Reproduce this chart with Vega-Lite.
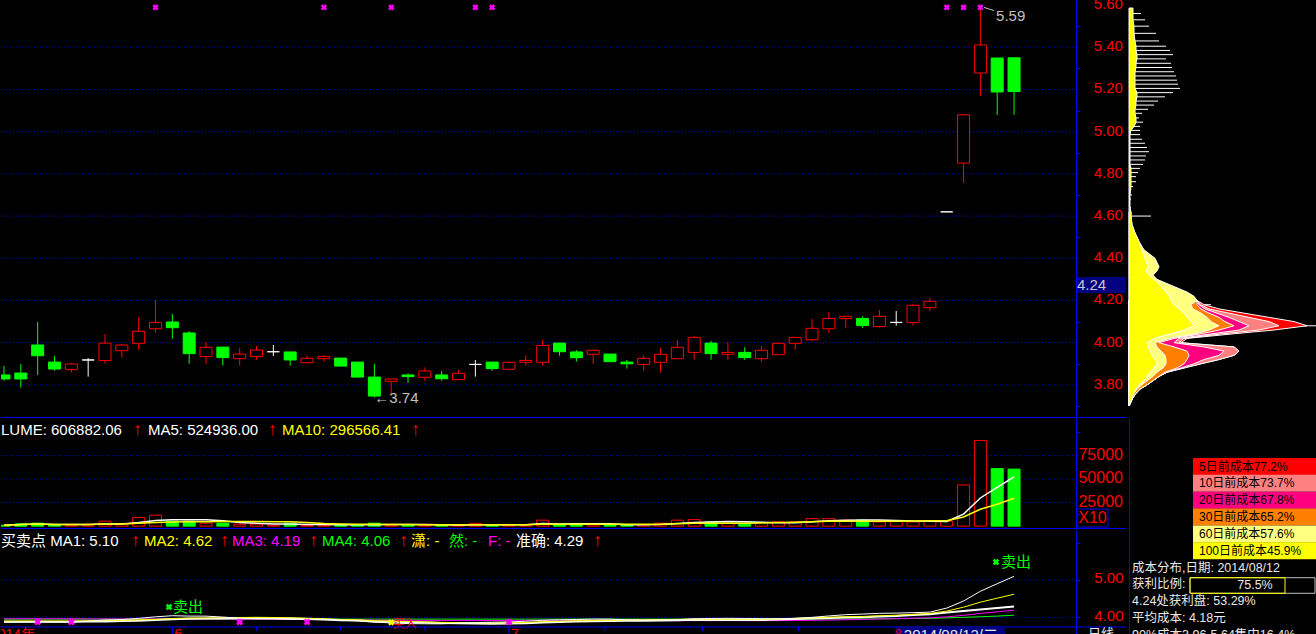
{
"$schema":"https://vega.github.io/schema/vega-lite/v6.json",
"background":"#000000",
"padding":0,
"spacing":0,
"usermeta":{"embedOptions":{"actions":false}},
"config":{"view":{"stroke":null},"concat":{"spacing":0},"font":"Liberation Sans","axis":{"grid":false},"text":{"font":"Liberation Sans, Noto Sans CJK SC"}},
"datasets":{
"k":[
{"i":1,"o":3.847,"h":3.889,"l":3.82,"c":3.828,"v":1000,"a5":1000,"a10":1000,"m1":3.87,"m2":3.9,"m3":3.96,"m4":3.95,"zq":3.88},
{"i":2,"o":3.856,"h":3.899,"l":3.787,"c":3.828,"v":2400,"a5":1700,"a10":1700,"m1":3.87,"m2":3.9,"m3":3.96,"m4":3.95,"zq":3.88},
{"i":3,"o":3.989,"h":4.098,"l":3.847,"c":3.938,"v":3200,"a5":2200,"a10":2200,"m1":3.88,"m2":3.9,"m3":3.96,"m4":3.95,"zq":3.88},
{"i":4,"o":3.908,"h":3.937,"l":3.867,"c":3.875,"v":1000,"a5":1900,"a10":1900,"m1":3.87,"m2":3.9,"m3":3.96,"m4":3.95,"zq":3.88},
{"i":5,"o":3.872,"h":3.904,"l":3.858,"c":3.899,"v":1200,"a5":1760,"a10":1760,"m1":3.876,"m2":3.9,"m3":3.96,"m4":3.95,"zq":3.88},
{"i":6,"o":3.918,"h":3.927,"l":3.839,"c":3.918,"v":1500,"a5":1860,"a10":1717,"m1":3.894,"m2":3.905,"m3":3.955,"m4":3.95,"zq":3.885},
{"i":7,"o":3.915,"h":4.041,"l":3.9,"c":3.998,"v":5300,"a5":2440,"a10":2229,"m1":3.928,"m2":3.91,"m3":3.955,"m4":3.95,"zq":3.89},
{"i":8,"o":3.962,"h":3.994,"l":3.929,"c":3.989,"v":2800,"a5":2360,"a10":2300,"m1":3.938,"m2":3.92,"m3":3.955,"m4":3.95,"zq":3.9},
{"i":9,"o":3.997,"h":4.122,"l":3.967,"c":4.054,"v":9200,"a5":4000,"a10":3089,"m1":3.972,"m2":3.93,"m3":3.955,"m4":3.95,"zq":3.91},
{"i":10,"o":4.066,"h":4.202,"l":4.047,"c":4.096,"v":11700,"a5":6100,"a10":3930,"m1":4.012,"m2":3.944,"m3":3.955,"m4":3.95,"zq":3.924},
{"i":11,"o":4.098,"h":4.136,"l":4.019,"c":4.071,"v":5300,"a5":6860,"a10":4360,"m1":4.042,"m2":3.968,"m3":3.955,"m4":3.95,"zq":3.948},
{"i":12,"o":4.046,"h":4.055,"l":3.9,"c":3.948,"v":5300,"a5":6860,"a10":4650,"m1":4.032,"m2":3.98,"m3":3.955,"m4":3.95,"zq":3.96},
{"i":13,"o":3.934,"h":4.003,"l":3.9,"c":3.978,"v":3200,"a5":6940,"a10":4650,"m1":4.03,"m2":3.984,"m3":3.955,"m4":3.95,"zq":3.964},
{"i":14,"o":3.979,"h":3.979,"l":3.891,"c":3.929,"v":3200,"a5":5740,"a10":4870,"m1":4.006,"m2":3.989,"m3":3.955,"m4":3.95,"zq":3.969},
{"i":15,"o":3.924,"h":3.975,"l":3.891,"c":3.946,"v":2100,"a5":3820,"a10":4960,"m1":3.976,"m2":3.994,"m3":3.95,"m4":3.95,"zq":3.974},
{"i":16,"o":3.934,"h":3.984,"l":3.919,"c":3.965,"v":2100,"a5":3180,"a10":5020,"m1":3.956,"m2":3.999,"m3":3.95,"m4":3.95,"zq":3.979},
{"i":17,"o":3.957,"h":3.989,"l":3.937,"c":3.957,"v":1000,"a5":2320,"a10":4590,"m1":3.958,"m2":3.995,"m3":3.95,"m4":3.95,"zq":3.975},
{"i":18,"o":3.956,"h":3.956,"l":3.891,"c":3.918,"v":3200,"a5":2320,"a10":4630,"m1":3.946,"m2":3.988,"m3":3.945,"m4":3.95,"zq":3.968},
{"i":19,"o":3.905,"h":3.94,"l":3.9,"c":3.926,"v":1000,"a5":1880,"a10":3810,"m1":3.946,"m2":3.976,"m3":3.945,"m4":3.95,"zq":3.956},
{"i":20,"o":3.924,"h":3.94,"l":3.91,"c":3.935,"v":1000,"a5":1660,"a10":2740,"m1":3.944,"m2":3.96,"m3":3.94,"m4":3.95,"zq":3.94},
{"i":21,"o":3.927,"h":3.927,"l":3.889,"c":3.889,"v":1500,"a5":1540,"a10":2360,"m1":3.928,"m2":3.942,"m3":3.935,"m4":3.95,"zq":3.922},
{"i":22,"o":3.908,"h":3.908,"l":3.837,"c":3.837,"v":1500,"a5":1640,"a10":1980,"m1":3.904,"m2":3.931,"m3":3.93,"m4":3.95,"zq":3.911},
{"i":23,"o":3.837,"h":3.899,"l":3.74,"c":3.747,"v":3200,"a5":1640,"a10":1980,"m1":3.87,"m2":3.908,"m3":3.925,"m4":3.95,"zq":3.888},
{"i":24,"o":3.817,"h":3.828,"l":3.752,"c":3.828,"v":1200,"a5":1680,"a10":1780,"m1":3.85,"m2":3.898,"m3":3.92,"m4":3.95,"zq":3.878},
{"i":25,"o":3.847,"h":3.855,"l":3.81,"c":3.839,"v":1200,"a5":1720,"a10":1690,"m1":3.83,"m2":3.887,"m3":3.92,"m4":3.95,"zq":3.867},
{"i":26,"o":3.836,"h":3.883,"l":3.82,"c":3.866,"v":1200,"a5":1660,"a10":1600,"m1":3.826,"m2":3.877,"m3":3.918,"m4":3.95,"zq":3.857},
{"i":27,"o":3.847,"h":3.866,"l":3.82,"c":3.829,"v":1200,"a5":1600,"a10":1620,"m1":3.824,"m2":3.864,"m3":3.916,"m4":3.95,"zq":3.844},
{"i":28,"o":3.825,"h":3.87,"l":3.825,"c":3.855,"v":1000,"a5":1160,"a10":1400,"m1":3.846,"m2":3.858,"m3":3.915,"m4":3.95,"zq":3.838},
{"i":29,"o":3.897,"h":3.918,"l":3.839,"c":3.897,"v":3000,"a5":1520,"a10":1600,"m1":3.86,"m2":3.855,"m3":3.915,"m4":3.95,"zq":3.835},
{"i":30,"o":3.908,"h":3.908,"l":3.867,"c":3.877,"v":1200,"a5":1520,"a10":1620,"m1":3.868,"m2":3.849,"m3":3.914,"m4":3.95,"zq":3.829},
{"i":31,"o":3.874,"h":3.912,"l":3.874,"c":3.907,"v":1500,"a5":1580,"a10":1620,"m1":3.876,"m2":3.851,"m3":3.917,"m4":3.95,"zq":3.831},
{"i":32,"o":3.907,"h":3.94,"l":3.891,"c":3.916,"v":1500,"a5":1640,"a10":1620,"m1":3.894,"m2":3.859,"m3":3.92,"m4":3.95,"zq":3.839},
{"i":33,"o":3.907,"h":4.013,"l":3.891,"c":3.987,"v":6400,"a5":2720,"a10":1940,"m1":3.92,"m2":3.883,"m3":3.922,"m4":3.95,"zq":3.863},
{"i":34,"o":3.998,"h":3.998,"l":3.938,"c":3.957,"v":1500,"a5":2420,"a10":1970,"m1":3.932,"m2":3.896,"m3":3.924,"m4":3.95,"zq":3.876},
{"i":35,"o":3.956,"h":3.965,"l":3.91,"c":3.929,"v":1500,"a5":2480,"a10":2000,"m1":3.942,"m2":3.905,"m3":3.925,"m4":3.95,"zq":3.885},
{"i":36,"o":3.945,"h":3.964,"l":3.9,"c":3.964,"v":1500,"a5":2480,"a10":2030,"m1":3.952,"m2":3.914,"m3":3.927,"m4":3.95,"zq":3.894},
{"i":37,"o":3.946,"h":3.946,"l":3.91,"c":3.91,"v":1500,"a5":2480,"a10":2060,"m1":3.95,"m2":3.922,"m3":3.924,"m4":3.95,"zq":3.902},
{"i":38,"o":3.908,"h":3.918,"l":3.877,"c":3.9,"v":1500,"a5":1500,"a10":2110,"m1":3.932,"m2":3.926,"m3":3.921,"m4":3.95,"zq":3.906},
{"i":39,"o":3.897,"h":3.94,"l":3.867,"c":3.926,"v":1500,"a5":1500,"a10":1960,"m1":3.926,"m2":3.929,"m3":3.917,"m4":3.95,"zq":3.909},
{"i":40,"o":3.907,"h":3.975,"l":3.858,"c":3.945,"v":3200,"a5":1840,"a10":2160,"m1":3.93,"m2":3.936,"m3":3.912,"m4":3.95,"zq":3.916},
{"i":41,"o":3.924,"h":4.013,"l":3.924,"c":3.978,"v":6400,"a5":2820,"a10":2650,"m1":3.934,"m2":3.943,"m3":3.909,"m4":3.95,"zq":3.923},
{"i":42,"o":3.954,"h":4.032,"l":3.919,"c":4.025,"v":7000,"a5":3920,"a10":3200,"m1":3.958,"m2":3.954,"m3":3.911,"m4":3.95,"zq":3.934},
{"i":43,"o":3.998,"h":4.008,"l":3.919,"c":3.948,"v":4500,"a5":4520,"a10":3010,"m1":3.968,"m2":3.95,"m3":3.91,"m4":3.95,"zq":3.93},
{"i":44,"o":3.945,"h":4.003,"l":3.919,"c":3.954,"v":3200,"a5":4860,"a10":3180,"m1":3.972,"m2":3.949,"m3":3.911,"m4":3.95,"zq":3.929},
{"i":45,"o":3.954,"h":3.978,"l":3.919,"c":3.929,"v":2100,"a5":4640,"a10":3240,"m1":3.968,"m2":3.949,"m3":3.91,"m4":3.95,"zq":3.929},
{"i":46,"o":3.924,"h":3.984,"l":3.91,"c":3.964,"v":4000,"a5":4160,"a10":3490,"m1":3.964,"m2":3.949,"m3":3.91,"m4":3.95,"zq":3.929},
{"i":47,"o":3.943,"h":4.003,"l":3.943,"c":3.997,"v":4500,"a5":3660,"a10":3790,"m1":3.958,"m2":3.958,"m3":3.911,"m4":3.95,"zq":3.938},
{"i":48,"o":3.997,"h":4.025,"l":3.967,"c":4.025,"v":4500,"a5":3660,"a10":4090,"m1":3.974,"m2":3.971,"m3":3.915,"m4":3.95,"zq":3.951},
{"i":49,"o":4.014,"h":4.112,"l":4.008,"c":4.068,"v":8000,"a5":4620,"a10":4740,"m1":3.998,"m2":3.985,"m3":3.92,"m4":3.95,"zq":3.965},
{"i":50,"o":4.066,"h":4.145,"l":4.046,"c":4.115,"v":8000,"a5":5800,"a10":5220,"m1":4.036,"m2":4.002,"m3":3.926,"m4":3.95,"zq":3.982},
{"i":51,"o":4.114,"h":4.125,"l":4.07,"c":4.125,"v":6400,"a5":6280,"a10":5220,"m1":4.07,"m2":4.017,"m3":3.934,"m4":3.952,"zq":3.997},
{"i":52,"o":4.115,"h":4.125,"l":4.07,"c":4.081,"v":6400,"a5":6660,"a10":5160,"m1":4.086,"m2":4.022,"m3":3.942,"m4":3.955,"zq":4.002},
{"i":53,"o":4.076,"h":4.155,"l":4.071,"c":4.125,"v":4500,"a5":6660,"a10":5160,"m1":4.106,"m2":4.04,"m3":3.954,"m4":3.958,"zq":4.02},
{"i":54,"o":4.096,"h":4.15,"l":4.081,"c":4.096,"v":5300,"a5":6120,"a10":5370,"m1":4.112,"m2":4.055,"m3":3.963,"m4":3.962,"zq":4.035},
{"i":55,"o":4.095,"h":4.183,"l":4.081,"c":4.177,"v":4500,"a5":5420,"a10":5610,"m1":4.124,"m2":4.08,"m3":3.975,"m4":3.966,"zq":4.06},
{"i":56,"o":4.166,"h":4.212,"l":4.15,"c":4.196,"v":5300,"a5":5200,"a10":5740,"m1":4.138,"m2":4.104,"m3":3.986,"m4":3.972,"zq":4.084},
{"i":57,"o":4.62,"h":4.62,"l":4.62,"c":4.62,"v":5300,"a5":4980,"a10":5820,"m1":4.246,"m2":4.166,"m3":4.012,"m4":3.984,"zq":4.13},
{"i":58,"o":4.851,"h":5.08,"l":4.757,"c":5.08,"v":43800,"a5":12840,"a10":9750,"m1":4.436,"m2":4.271,"m3":4.053,"m4":3.998,"zq":4.17},
{"i":59,"o":5.278,"h":5.59,"l":5.169,"c":5.411,"v":91000,"a5":29980,"a10":18050,"m1":4.698,"m2":4.405,"m3":4.103,"m4":4.014,"zq":4.21},
{"i":60,"o":5.349,"h":5.349,"l":5.079,"c":5.188,"v":61200,"a5":41320,"a10":23370,"m1":4.9,"m2":4.512,"m3":4.147,"m4":4.032,"zq":4.25},
{"i":61,"o":5.35,"h":5.35,"l":5.08,"c":5.19,"v":60700,"a5":52490,"a10":29660,"m1":5.098,"m2":4.618,"m3":4.189,"m4":4.055,"zq":4.29}
],
"chip":[
{"p":3.70,"a100":0,"a60":0,"a30":0,"a20":0,"a10":0,"a5":0},
{"p":3.72,"a100":2,"a60":2,"a30":2,"a20":2,"a10":2,"a5":2},
{"p":3.74,"a100":3,"a60":3,"a30":4,"a20":4,"a10":4,"a5":4},
{"p":3.76,"a100":5,"a60":5,"a30":7,"a20":7,"a10":7,"a5":7},
{"p":3.78,"a100":7,"a60":8,"a30":11,"a20":11,"a10":11,"a5":11},
{"p":3.80,"a100":10,"a60":13,"a30":18,"a20":18,"a10":18,"a5":18},
{"p":3.82,"a100":15,"a60":18,"a30":24,"a20":24,"a10":24,"a5":24},
{"p":3.84,"a100":18,"a60":24,"a30":30,"a20":30,"a10":30,"a5":30},
{"p":3.86,"a100":21,"a60":28,"a30":36,"a20":38,"a10":38,"a5":38},
{"p":3.88,"a100":25,"a60":34,"a30":48,"a20":52,"a10":55,"a5":55},
{"p":3.90,"a100":28,"a60":37,"a30":55,"a20":65,"a10":72,"a5":72},
{"p":3.92,"a100":26,"a60":37,"a30":58,"a20":75,"a10":90,"a5":90},
{"p":3.94,"a100":23,"a60":36,"a30":60,"a20":90,"a10":105,"a5":105},
{"p":3.96,"a100":21,"a60":32,"a30":58,"a20":95,"a10":110,"a5":110},
{"p":3.98,"a100":19,"a60":28,"a30":45,"a20":75,"a10":105,"a5":105},
{"p":4.00,"a100":18,"a60":26,"a30":30,"a20":45,"a10":50,"a5":52},
{"p":4.02,"a100":25,"a60":40,"a30":45,"a20":50,"a10":55,"a5":58},
{"p":4.04,"a100":40,"a60":65,"a30":70,"a20":80,"a10":90,"a5":100},
{"p":4.06,"a100":55,"a60":80,"a30":90,"a20":110,"a10":130,"a5":145},
{"p":4.08,"a100":65,"a60":90,"a30":105,"a20":120,"a10":150,"a5":178,"w":189},
{"p":4.10,"a100":62,"a60":82,"a30":96,"a20":110,"a10":140,"a5":165},
{"p":4.12,"a100":58,"a60":78,"a30":90,"a20":100,"a10":120,"a5":140},
{"p":4.14,"a100":55,"a60":72,"a30":80,"a20":88,"a10":100,"a5":115},
{"p":4.16,"a100":50,"a60":64,"a30":72,"a20":76,"a10":80,"a5":90},
{"p":4.18,"a100":45,"a60":62,"a30":68,"a20":70,"a10":72,"a5":75,"w":82},
{"p":4.20,"a100":42,"a60":68,"a30":68,"a20":68,"a10":68,"a5":68},
{"p":4.22,"a100":40,"a60":65},
{"p":4.24,"a100":37,"a60":58},
{"p":4.26,"a100":33,"a60":48},
{"p":4.28,"a100":30,"a60":38},
{"p":4.30,"a100":25,"a60":28},
{"p":4.32,"a100":20,"a60":24},
{"p":4.34,"a100":17,"a60":28},
{"p":4.36,"a100":19,"a60":30},
{"p":4.40,"a100":16,"a60":26},
{"p":4.44,"a100":13,"a60":15},
{"p":4.48,"a100":10,"a60":10},
{"p":4.52,"a100":6,"a60":6},
{"p":4.56,"a100":3,"a60":3},
{"p":4.60,"a100":2,"a60":2,"w":22},
{"p":4.62,"a100":2,"a60":2},
{"p":4.64,"a100":1,"w":2},
{"p":4.68,"a100":1,"w":2},
{"p":4.70,"a100":1,"w":3},
{"p":4.74,"a100":2,"w":4},
{"p":4.763,"a100":2,"w":7},
{"p":4.787,"a100":2,"w":7},
{"p":4.806,"a100":2,"w":9},
{"p":4.826,"a100":2,"w":11},
{"p":4.845,"a100":1,"w":14},
{"p":4.866,"a100":1,"w":16},
{"p":4.885,"a100":1,"w":17},
{"p":4.905,"a100":1,"w":20},
{"p":4.925,"a100":1,"w":18},
{"p":4.945,"a100":1,"w":16},
{"p":4.964,"a100":1,"w":13},
{"p":4.986,"a100":1,"w":11},
{"p":5.006,"a100":2,"w":11},
{"p":5.025,"a100":5,"w":11},
{"p":5.045,"a100":7,"w":14},
{"p":5.065,"a100":7,"w":10},
{"p":5.087,"a100":6,"w":13},
{"p":5.106,"a100":6,"w":19},
{"p":5.126,"a100":7,"w":25},
{"p":5.145,"a100":7,"w":29},
{"p":5.165,"a100":8,"w":36},
{"p":5.185,"a100":8,"w":44},
{"p":5.205,"a100":6,"w":51},
{"p":5.225,"a100":6,"w":49},
{"p":5.244,"a100":6,"w":48},
{"p":5.264,"a100":6,"w":47},
{"p":5.284,"a100":6,"w":45},
{"p":5.304,"a100":7,"w":43},
{"p":5.324,"a100":7,"w":42},
{"p":5.345,"a100":8,"w":37},
{"p":5.365,"a100":8,"w":44},
{"p":5.385,"a100":7,"w":41},
{"p":5.405,"a100":7,"w":37},
{"p":5.43,"a100":6,"w":30},
{"p":5.466,"a100":5,"w":27},
{"p":5.50,"a100":5,"w":20},
{"p":5.53,"a100":4,"w":16},
{"p":5.56,"a100":4,"w":12},
{"p":5.585,"a100":4,"w":4}
],
"plab":[{"lv":3.8},{"lv":4.0},{"lv":4.2},{"lv":4.4},{"lv":4.6},{"lv":4.8},{"lv":5.0},{"lv":5.2},{"lv":5.4},{"lv":5.6}],
"vlab":[{"lv":25000},{"lv":50000},{"lv":75000}],
"sigTop":[{"i":10},{"i":20},{"i":24},{"i":29},{"i":30},{"i":57},{"i":58},{"i":59}],
"sigBot":[{"i":3},{"i":5},{"i":15},{"i":19},{"i":31}],
"sigBotY":[{"i":24}],
"tk":[{"i":11,"m":"6"},{"i":16},{"i":21},{"i":26},{"i":31,"m":"7"},{"i":36.7},{"i":42.5},{"i":48.2}],
"legend":[{"k":0,"n":"5日","t":"5日前成本77.2%"},{"k":1,"n":"10日","t":"10日前成本73.7%"},{"k":2,"n":"20日","t":"20日前成本67.8%"},{"k":3,"n":"30日","t":"30日前成本65.2%"},{"k":4,"n":"60日","t":"60日前成本57.6%"},{"k":5,"n":"100日","t":"100日前成本45.9%"}],
"infotxt":[{"k":6,"t":"成本分布,日期: 2014/08/12"},{"k":7,"t":"获利比例:"},{"k":8,"t":"4.24处获利盘: 53.29%"},{"k":9,"t":"平均成本: 4.18元"},{"k":10,"t":"90%成本3.96-5.64集中16.4%"}]
},
"hconcat":[
{"spacing":0,"vconcat":[
{"width":1125,"height":418,"data":{"name":"k"},"layer":[
{"data":{"values":[{"g":3.8},{"g":4.0},{"g":4.2},{"g":4.4},{"g":4.6},{"g":4.8},{"g":5.0},{"g":5.2},{"g":5.4}]},
 "mark":{"type":"rule","color":"#0000c0","strokeDash":[1,2]},
 "encoding":{
  "x":{"datum":0.822,"type":"quantitative","scale":{"domain":[0.822,67.65],"nice":false,"zero":false,"padding":0},"axis":null},
  "x2":{"datum":64.68},
  "y":{"field":"g","type":"quantitative","scale":{"domain":[3.643,5.624],"nice":false,"zero":false},"axis":{"orient":"right","offset":-50,"zindex":1,"values":[3.7,3.8,3.9,4.0,4.1,4.2,4.3,4.4,4.5,4.6,4.7,4.8,4.9,5.0,5.1,5.2,5.3,5.4,5.5,5.6],"labels":false,"domainColor":"#0000ff","tickColor":"#0000ff","tickSize":4,"grid":false,"title":null,"minExtent":0}}
 }},
{"data":{"name":"plab"},"mark":{"type":"text","color":"#ff0000","fontSize":15,"align":"right","baseline":"middle","dy":-1,"clip":true,"font":"Liberation Sans"},"encoding":{"x":{"datum":67.47,"type":"quantitative"},"y":{"field":"lv","type":"quantitative"},"text":{"field":"lv","type":"quantitative","format":".2f"}}},
{"data":{"values":[{"a":0.822,"b":67.65,"c":3.6454}]},"mark":{"type":"rule","color":"#0000ff"},"encoding":{"x":{"field":"a","type":"quantitative"},"x2":{"field":"b"},"y":{"field":"c","type":"quantitative"}}},
{"mark":{"type":"rule","strokeWidth":1,"clip":true},"encoding":{"x":{"field":"i","type":"quantitative"},"y":{"field":"l","type":"quantitative"},"y2":{"field":"h"},"color":{"condition":[{"test":"datum.c>datum.o","value":"#ff0000"},{"test":"datum.c<datum.o","value":"#00ff00"}],"value":"#ffffff"}}},
{"mark":{"type":"bar","size":12,"strokeWidth":1,"clip":true},"encoding":{"x":{"field":"i","type":"quantitative"},"y":{"field":"o","type":"quantitative"},"y2":{"field":"c"},"fill":{"condition":{"test":"datum.c<datum.o","value":"#00ff00"},"value":"#000000"},"stroke":{"condition":[{"test":"datum.c>datum.o","value":"#ff0000"},{"test":"datum.c<datum.o","value":"#00ff00"}],"value":"#ffffff"}}},
{"data":{"name":"sigTop"},"mark":{"type":"point","shape":"cross","angle":45,"filled":true,"color":"#ff00ff","size":40,"opacity":1},"encoding":{"x":{"field":"i","type":"quantitative"},"y":{"datum":5.589,"type":"quantitative"}}},
{"data":{"values":[{}]},"mark":{"type":"text","text":"←3.74","color":"#c0c0c0","fontSize":15,"align":"left","baseline":"middle","font":"Liberation Sans"},"encoding":{"x":{"datum":23.0,"type":"quantitative"},"y":{"datum":3.739,"type":"quantitative"}}},
{"data":{"values":[{}]},"mark":{"type":"text","text":"5.59","color":"#c0c0c0","fontSize":15,"align":"left","baseline":"middle","font":"Liberation Sans"},"encoding":{"x":{"datum":59.93,"type":"quantitative"},"y":{"datum":5.55,"type":"quantitative"}}},
{"data":{"values":[{"a":59.21,"b":59.81,"c":5.589,"d":5.574}]},"mark":{"type":"rule","color":"#c0c0c0"},"encoding":{"x":{"field":"a","type":"quantitative"},"x2":{"field":"b"},"y":{"field":"c","type":"quantitative"},"y2":{"field":"d"}}},
{"data":{"values":[{"a":64.68,"b":67.65,"c":4.311,"d":4.235}]},"mark":{"type":"rect","fill":"#000080"},"encoding":{"x":{"field":"a","type":"quantitative"},"x2":{"field":"b"},"y":{"field":"c","type":"quantitative"},"y2":{"field":"d"}}},
{"data":{"values":[{}]},"mark":{"type":"text","text":"4.24","color":"#c8c8c8","fontSize":15,"align":"left","baseline":"middle","font":"Liberation Sans"},"encoding":{"x":{"datum":64.74,"type":"quantitative"},"y":{"datum":4.273,"type":"quantitative"}}}
]},
{"width":1125,"height":111,"data":{"name":"k"},"layer":[
{"data":{"values":[{"g":25000},{"g":50000},{"g":75000}]},
 "mark":{"type":"rule","color":"#0000c0","strokeDash":[1,2]},
 "encoding":{
  "x":{"datum":0.822,"type":"quantitative","scale":{"domain":[0.822,67.65],"nice":false,"zero":false,"padding":0},"axis":null},
  "x2":{"datum":64.68},
  "y":{"field":"g","type":"quantitative","scale":{"domain":[-3000,115000],"nice":false,"zero":false},"axis":{"orient":"right","offset":-50,"zindex":1,"values":[12500,25000,37500,50000,62500,75000,87500,100000],"labels":false,"domainColor":"#0000ff","tickColor":"#0000ff","tickSize":4,"grid":false,"title":null,"minExtent":0}}
 }},
{"data":{"name":"vlab"},"mark":{"type":"text","color":"#ff0000","fontSize":16,"align":"right","baseline":"middle","dy":-1,"clip":true,"font":"Liberation Sans"},"encoding":{"x":{"datum":67.47,"type":"quantitative"},"y":{"field":"lv","type":"quantitative"},"text":{"field":"lv","type":"quantitative","format":"d"}}},
{"data":{"values":[{"a":0.822,"b":67.65,"c":-2470}]},"mark":{"type":"rule","color":"#0000ff"},"encoding":{"x":{"field":"a","type":"quantitative"},"x2":{"field":"b"},"y":{"field":"c","type":"quantitative"}}},
{"mark":{"type":"bar","size":12,"strokeWidth":1,"clip":true},"encoding":{"x":{"field":"i","type":"quantitative"},"y":{"field":"v","type":"quantitative"},"y2":{"datum":0},"fill":{"condition":{"test":"datum.c<datum.o","value":"#00ff00"},"value":"#000000"},"stroke":{"condition":{"test":"datum.c<datum.o","value":"#00ff00"},"value":"#ff0000"}}},
{"mark":{"type":"line","color":"#ffffff","strokeWidth":1.5,"clip":true},"encoding":{"x":{"field":"i","type":"quantitative"},"y":{"field":"a5","type":"quantitative"}}},
{"mark":{"type":"line","color":"#ffff00","strokeWidth":1.5,"clip":true},"encoding":{"x":{"field":"i","type":"quantitative"},"y":{"field":"a10","type":"quantitative"}}},
{"data":{"values":[{}]},"mark":{"type":"text","text":"LUME: 606882.06","color":"#ffffff","fontSize":15,"align":"left","baseline":"middle"},"encoding":{"x":{"datum":0.822,"type":"quantitative"},"y":{"datum":102240,"type":"quantitative"}}},
{"data":{"values":[{}]},"mark":{"type":"text","text":"↑","color":"#ff0000","fontSize":18,"align":"left","baseline":"middle"},"encoding":{"x":{"datum":8.664,"type":"quantitative"},"y":{"datum":102240,"type":"quantitative"}}},
{"data":{"values":[{}]},"mark":{"type":"text","text":"MA5: 524936.00","color":"#ffffff","fontSize":15,"align":"left","baseline":"middle"},"encoding":{"x":{"datum":9.554,"type":"quantitative"},"y":{"datum":102240,"type":"quantitative"}}},
{"data":{"values":[{}]},"mark":{"type":"text","text":"↑","color":"#ff0000","fontSize":18,"align":"left","baseline":"middle"},"encoding":{"x":{"datum":16.68,"type":"quantitative"},"y":{"datum":102240,"type":"quantitative"}}},
{"data":{"values":[{}]},"mark":{"type":"text","text":"MA10: 296566.41","color":"#ffff00","fontSize":15,"align":"left","baseline":"middle"},"encoding":{"x":{"datum":17.51,"type":"quantitative"},"y":{"datum":102240,"type":"quantitative"}}},
{"data":{"values":[{}]},"mark":{"type":"text","text":"↑","color":"#ff0000","fontSize":18,"align":"left","baseline":"middle"},"encoding":{"x":{"datum":25.18,"type":"quantitative"},"y":{"datum":102240,"type":"quantitative"}}},
{"data":{"values":[{"a":64.74,"b":66.58,"c":18262,"d":-872}]},"mark":{"type":"rect","fill":"transparent","stroke":"#0000ff","strokeWidth":1},"encoding":{"x":{"field":"a","type":"quantitative"},"x2":{"field":"b"},"y":{"field":"c","type":"quantitative"},"y2":{"field":"d"}}},
{"data":{"values":[{}]},"mark":{"type":"text","text":"X10","color":"#ff0000","fontSize":16,"align":"center","baseline":"middle"},"encoding":{"x":{"datum":65.66,"type":"quantitative"},"y":{"datum":8694,"type":"quantitative"}}}
]},
{"width":1125,"height":105,"data":{"name":"k"},"layer":[
{"data":{"values":[{"g":4},{"g":5}]},
 "mark":{"type":"rule","color":"#0000c0","strokeDash":[1,2]},
 "encoding":{
  "x":{"datum":0.822,"type":"quantitative","scale":{"domain":[0.822,67.65],"nice":false,"zero":false,"padding":0},"axis":null},
  "x2":{"datum":64.68},
  "y":{"field":"g","type":"quantitative","scale":{"domain":[3.525,6.34],"nice":false,"zero":false},"axis":{"orient":"right","offset":-50,"zindex":1,"values":[4,4.5,5,5.5,6],"labelExpr":"(datum.value==4||datum.value==5) ? format(datum.value,'.2f') : ''","domainColor":"#0000ff","tickColor":"#0000ff","tickSize":4,"labelColor":"#ff0000","labelFont":"Liberation Sans","labelFontSize":15,"labelAlign":"right","labelBaseline":"middle","labelPadding":43,"labelOffset":-2,"labelOverlap":false,"labelFlush":false,"grid":false,"title":null,"minExtent":0}}
 }},
{"mark":{"type":"line","color":"#00ff00","strokeWidth":1,"clip":true},"encoding":{"x":{"field":"i","type":"quantitative"},"y":{"field":"m4","type":"quantitative"}}},
{"mark":{"type":"line","color":"#ff00ff","strokeWidth":1,"clip":true},"encoding":{"x":{"field":"i","type":"quantitative"},"y":{"field":"m3","type":"quantitative"}}},
{"mark":{"type":"line","color":"#ffffff","strokeWidth":2,"clip":true},"encoding":{"x":{"field":"i","type":"quantitative"},"y":{"field":"zq","type":"quantitative"}}},
{"mark":{"type":"line","color":"#ffff00","strokeWidth":1,"clip":true},"encoding":{"x":{"field":"i","type":"quantitative"},"y":{"field":"m2","type":"quantitative"}}},
{"mark":{"type":"line","color":"#ffffff","strokeWidth":1,"clip":true},"encoding":{"x":{"field":"i","type":"quantitative"},"y":{"field":"m1","type":"quantitative"}}},
{"data":{"values":[{}]},"mark":{"type":"point","shape":"cross","angle":45,"filled":true,"color":"#00ff00","size":45,"opacity":1},"encoding":{"x":{"datum":10.8,"type":"quantitative"},"y":{"datum":4.276,"type":"quantitative"}}},
{"data":{"values":[{}]},"mark":{"type":"text","text":"卖出","color":"#00ff00","fontSize":15,"align":"left","baseline":"middle"},"encoding":{"x":{"datum":11.04,"type":"quantitative"},"y":{"datum":4.276,"type":"quantitative"}}},
{"data":{"values":[{}]},"mark":{"type":"point","shape":"cross","angle":45,"filled":true,"color":"#00ff00","size":45,"opacity":1},"encoding":{"x":{"datum":59.93,"type":"quantitative"},"y":{"datum":5.482,"type":"quantitative"}}},
{"data":{"values":[{}]},"mark":{"type":"text","text":"卖出","color":"#00ff00","fontSize":15,"align":"left","baseline":"middle"},"encoding":{"x":{"datum":60.23,"type":"quantitative"},"y":{"datum":5.482,"type":"quantitative"}}},
{"data":{"name":"sigBot"},"mark":{"type":"point","shape":"cross","angle":45,"filled":true,"color":"#ff00ff","size":50,"opacity":1},"encoding":{"x":{"field":"i","type":"quantitative"},"y":{"datum":3.873,"type":"quantitative"}}},
{"data":{"name":"sigBotY"},"mark":{"type":"point","shape":"cross","angle":45,"filled":true,"color":"#ffff00","size":40,"opacity":1},"encoding":{"x":{"field":"i","type":"quantitative"},"y":{"datum":3.86,"type":"quantitative"}}},
{"data":{"values":[{}]},"mark":{"type":"text","text":"买入","color":"#ff0000","fontSize":12,"align":"left","baseline":"middle","clip":true},"encoding":{"x":{"datum":24.1,"type":"quantitative"},"y":{"datum":3.81,"type":"quantitative"}}},
{"data":{"values":[{"a":0.822,"b":67.65,"c":3.74}]},"mark":{"type":"rule","color":"#0000ff"},"encoding":{"x":{"field":"a","type":"quantitative"},"x2":{"field":"b"},"y":{"field":"c","type":"quantitative"}}},
{"data":{"name":"tk"},"mark":{"type":"rule","color":"#0000ff"},"encoding":{"x":{"field":"i","type":"quantitative"},"y":{"datum":3.74,"type":"quantitative"},"y2":{"datum":3.633}}},
{"data":{"name":"tk"},"transform":[{"filter":"isValid(datum.m)"}],"mark":{"type":"rule","color":"#0000ff"},"encoding":{"x":{"field":"i","type":"quantitative"},"y":{"datum":3.74,"type":"quantitative"},"y2":{"datum":3.525}}},
{"data":{"name":"tk"},"transform":[{"filter":"isValid(datum.m)"}],"mark":{"type":"text","color":"#ff0000","fontSize":14,"align":"left","baseline":"top","dx":2,"clip":true},"encoding":{"x":{"field":"i","type":"quantitative"},"y":{"datum":3.713,"type":"quantitative"},"text":{"field":"m","type":"nominal"}}},
{"data":{"values":[{}]},"mark":{"type":"text","text":"2014年","color":"#ff0000","fontSize":14,"align":"left","baseline":"top","dx":-11,"clip":true},"encoding":{"x":{"datum":0.822,"type":"quantitative"},"y":{"datum":3.713,"type":"quantitative"}}},
{"data":{"values":[{"a":53.93,"b":60.46,"c":3.74,"d":3.525}]},"mark":{"type":"rect","fill":"#000080"},"encoding":{"x":{"field":"a","type":"quantitative"},"x2":{"field":"b"},"y":{"field":"c","type":"quantitative"},"y2":{"field":"d"}}},
{"data":{"values":[{}]},"mark":{"type":"point","shape":"circle","filled":false,"stroke":"#ff0000","strokeWidth":1,"size":18,"opacity":1},"encoding":{"x":{"datum":54.15,"type":"quantitative"},"y":{"datum":3.62,"type":"quantitative"}}},
{"data":{"values":[{}]},"mark":{"type":"text","text":"2014/08/12/二","color":"#e8e8e8","fontSize":15,"align":"left","baseline":"top","clip":true},"encoding":{"x":{"datum":54.45,"type":"quantitative"},"y":{"datum":3.713,"type":"quantitative"}}},
{"data":{"values":[{}]},"mark":{"type":"text","text":"日线","color":"#e8e8e8","fontSize":13,"align":"left","baseline":"top","clip":true},"encoding":{"x":{"datum":65.39,"type":"quantitative"},"y":{"datum":3.713,"type":"quantitative"}}},
{"data":{"values":[{}]},"mark":{"type":"text","text":"买卖点 MA1: 5.10","color":"#ffffff","fontSize":15,"align":"left","baseline":"middle"},"encoding":{"x":{"datum":0.822,"type":"quantitative"},"y":{"datum":6.045,"type":"quantitative"}}},
{"data":{"values":[{}]},"mark":{"type":"text","text":"↑","color":"#ff0000","fontSize":18,"align":"left","baseline":"middle"},"encoding":{"x":{"datum":8.545,"type":"quantitative"},"y":{"datum":6.045,"type":"quantitative"}}},
{"data":{"values":[{}]},"mark":{"type":"text","text":"MA2: 4.62","color":"#ffff00","fontSize":15,"align":"left","baseline":"middle"},"encoding":{"x":{"datum":9.317,"type":"quantitative"},"y":{"datum":6.045,"type":"quantitative"}}},
{"data":{"values":[{}]},"mark":{"type":"text","text":"↑","color":"#ff0000","fontSize":18,"align":"left","baseline":"middle"},"encoding":{"x":{"datum":13.83,"type":"quantitative"},"y":{"datum":6.045,"type":"quantitative"}}},
{"data":{"values":[{}]},"mark":{"type":"text","text":"MA3: 4.19","color":"#ff00ff","fontSize":15,"align":"left","baseline":"middle"},"encoding":{"x":{"datum":14.54,"type":"quantitative"},"y":{"datum":6.045,"type":"quantitative"}}},
{"data":{"values":[{}]},"mark":{"type":"text","text":"↑","color":"#ff0000","fontSize":18,"align":"left","baseline":"middle"},"encoding":{"x":{"datum":19.12,"type":"quantitative"},"y":{"datum":6.045,"type":"quantitative"}}},
{"data":{"values":[{}]},"mark":{"type":"text","text":"MA4: 4.06","color":"#00ff00","fontSize":15,"align":"left","baseline":"middle"},"encoding":{"x":{"datum":19.89,"type":"quantitative"},"y":{"datum":6.045,"type":"quantitative"}}},
{"data":{"values":[{}]},"mark":{"type":"text","text":"↑","color":"#ff0000","fontSize":18,"align":"left","baseline":"middle"},"encoding":{"x":{"datum":24.46,"type":"quantitative"},"y":{"datum":6.045,"type":"quantitative"}}},
{"data":{"values":[{}]},"mark":{"type":"text","text":"潇: -","color":"#ffff00","fontSize":15,"align":"left","baseline":"middle"},"encoding":{"x":{"datum":25.18,"type":"quantitative"},"y":{"datum":6.045,"type":"quantitative"}}},
{"data":{"values":[{}]},"mark":{"type":"text","text":"然: -","color":"#00ff00","fontSize":15,"align":"left","baseline":"middle"},"encoding":{"x":{"datum":27.43,"type":"quantitative"},"y":{"datum":6.045,"type":"quantitative"}}},
{"data":{"values":[{}]},"mark":{"type":"text","text":"F: -","color":"#ff00ff","fontSize":15,"align":"left","baseline":"middle"},"encoding":{"x":{"datum":29.75,"type":"quantitative"},"y":{"datum":6.045,"type":"quantitative"}}},
{"data":{"values":[{}]},"mark":{"type":"text","text":"准确: 4.29","color":"#ffffff","fontSize":15,"align":"left","baseline":"middle"},"encoding":{"x":{"datum":31.41,"type":"quantitative"},"y":{"datum":6.045,"type":"quantitative"}}},
{"data":{"values":[{}]},"mark":{"type":"text","text":"↑","color":"#ff0000","fontSize":18,"align":"left","baseline":"middle"},"encoding":{"x":{"datum":35.99,"type":"quantitative"},"y":{"datum":6.045,"type":"quantitative"}}}
]}
]},
{"spacing":0,"vconcat":[
{"width":191,"height":418,"data":{"name":"chip"},"layer":[
{"transform":[{"filter":"isValid(datum.w)"}],"mark":{"type":"rule","color":"#ffffff","strokeWidth":1},"encoding":{"y":{"field":"p","type":"quantitative","scale":{"domain":[3.643,5.624],"nice":false,"zero":false},"axis":null},"x":{"field":"w","type":"quantitative","scale":{"domain":[0,191],"nice":false,"zero":false},"axis":null},"x2":{"datum":0}}},
{"mark":{"type":"area","orient":"horizontal","fill":"#ff0000","stroke":"#ffffff","strokeWidth":1,"opacity":1},"encoding":{"y":{"field":"p","type":"quantitative"},"x":{"field":"a5","type":"quantitative"}}},
{"mark":{"type":"area","orient":"horizontal","fill":"#ff8080","stroke":"#ffffff","strokeWidth":1,"opacity":1},"encoding":{"y":{"field":"p","type":"quantitative"},"x":{"field":"a10","type":"quantitative"}}},
{"mark":{"type":"area","orient":"horizontal","fill":"#ff0080","stroke":"#ffffff","strokeWidth":1,"opacity":1},"encoding":{"y":{"field":"p","type":"quantitative"},"x":{"field":"a20","type":"quantitative"}}},
{"mark":{"type":"area","orient":"horizontal","fill":"#ff8000","stroke":"#ffffff","strokeWidth":1,"opacity":1},"encoding":{"y":{"field":"p","type":"quantitative"},"x":{"field":"a30","type":"quantitative"}}},
{"mark":{"type":"area","orient":"horizontal","fill":"#ffff80","stroke":"#ffffff","strokeWidth":1,"opacity":1},"encoding":{"y":{"field":"p","type":"quantitative"},"x":{"field":"a60","type":"quantitative"}}},
{"mark":{"type":"area","orient":"horizontal","fill":"#ffff00","stroke":"#ffffff","strokeWidth":1,"opacity":1},"encoding":{"y":{"field":"p","type":"quantitative"},"x":{"field":"a100","type":"quantitative"}}}
]},
{"width":191,"height":216,"layer":[
{"data":{"values":[{"a":0.5,"c":-2.819,"d":10.0}]},"mark":{"type":"rule","color":"#0000ff"},"encoding":{"x":{"field":"a","type":"quantitative","scale":{"domain":[0,191],"nice":false,"zero":false},"axis":null},"y":{"field":"c","type":"quantitative","scale":{"domain":[-2.819,10.0],"nice":false,"zero":false,"reverse":true},"axis":null},"y2":{"field":"d"}}},
{"data":{"name":"legend"},"mark":{"type":"tick","orient":"horizontal","size":127,"thickness":17,"opacity":1},"encoding":{"y":{"field":"k","type":"quantitative"},"x":{"datum":127.5,"type":"quantitative"},"color":{"field":"n","type":"nominal","scale":{"domain":["5日","10日","20日","30日","60日","100日"],"range":["#ff0000","#ff8080","#ff0080","#ff8000","#ffff80","#ffff00"]},"legend":null}}},
{"data":{"name":"legend"},"mark":{"type":"text","align":"left","baseline":"middle","color":"#000000","fontSize":12},"encoding":{"y":{"field":"k","type":"quantitative"},"x":{"datum":70,"type":"quantitative"},"text":{"field":"t","type":"nominal"}}},
{"data":{"name":"infotxt"},"mark":{"type":"text","align":"left","baseline":"middle","color":"#e8e8e8","fontSize":12.5,"clip":true},"encoding":{"y":{"field":"k","type":"quantitative"},"x":{"datum":3,"type":"quantitative"},"text":{"field":"t","type":"nominal"}}},
{"data":{"values":[{"a":61,"b":186,"c":6.6,"d":7.525}]},"mark":{"type":"rect","fill":"transparent","stroke":"#c0c0c0","strokeWidth":1},"encoding":{"x":{"field":"a","type":"quantitative"},"x2":{"field":"b"},"y":{"field":"c","type":"quantitative"},"y2":{"field":"d"}}},
{"data":{"values":[{"a":61,"b":156,"c":6.6,"d":7.525}]},"mark":{"type":"rect","fill":"transparent","stroke":"#ffff00","strokeWidth":1},"encoding":{"x":{"field":"a","type":"quantitative"},"x2":{"field":"b"},"y":{"field":"c","type":"quantitative"},"y2":{"field":"d"}}},
{"data":{"values":[{}]},"mark":{"type":"text","text":"75.5%","align":"center","baseline":"middle","color":"#e8e8e8","fontSize":12.5},"encoding":{"x":{"datum":126,"type":"quantitative"},"y":{"datum":7.06,"type":"quantitative"}}}
]}
]}
]
}
